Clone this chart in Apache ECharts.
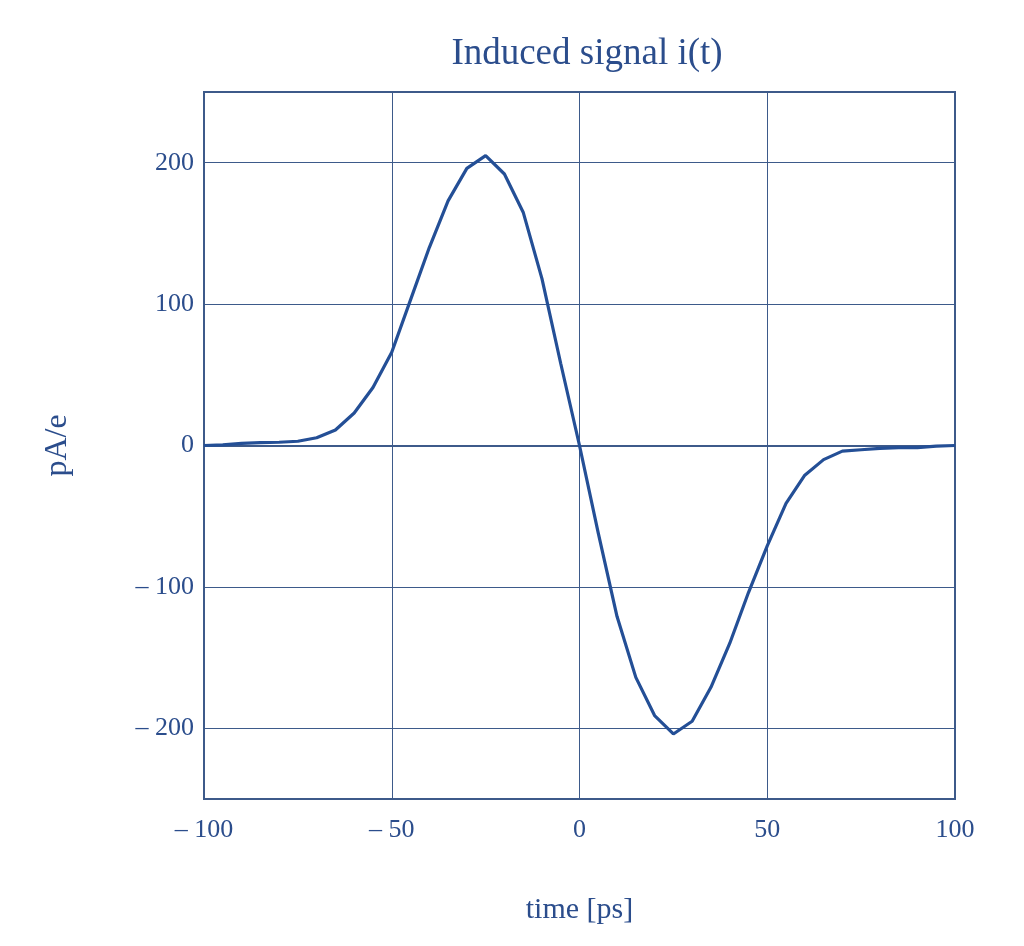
<!DOCTYPE html>
<html><head><meta charset="utf-8">
<script src="https://cdn.jsdelivr.net/npm/echarts@6/dist/echarts.min.js"></script>
<style>html,body{margin:0;padding:0;background:#fff}#c{width:1024px;height:946px}</style>
</head><body><div id="c"></div>
<script>
var times = [-100,-95,-90,-85,-80,-75,-70,-65,-60,-55,-50,-45,-40,-35,-30,-25,-20,-15,-10,-5,0,5,10,15,20,25,30,35,40,45,50,55,60,65,70,75,80,85,90,95,100];
var signal = [0,0.5,1.5,2,2.3,3,5.5,11,23,41,66,103,140,173,196,205,192,165,118,58,0,-62,-121,-164,-191,-204,-195,-171,-140,-104,-71,-41,-21,-10,-4,-3,-2,-1.5,-1.5,-0.5,0];
var yTicks = [-200,-100,0,100,200];
var xTicks = [-100,-50,0,50,100];
var titleText = 'Induced signal i(t)';
var xName = 'time [ps]';
var yName = 'pA/e';

var txt = '#2b4d8c', lineC = '#244f96', gridC = '#3d5a8a';
var font = '"Liberation Serif","DejaVu Serif",serif';
function fmt(v){ return v < 0 ? '\u2013 ' + Math.abs(v) : String(v); }
var chart = echarts.init(document.getElementById('c'));
chart.setOption({
  animation: false,
  title: { text: titleText, left: 582, textAlign: 'center', top: 31,
    textStyle: { fontFamily: font, fontSize: 37, fontWeight: 'normal', color: txt } },
  grid: { left: 204, right: 69, top: 92, bottom: 147, show: true, borderColor: gridC, borderWidth: 2, backgroundColor: 'transparent' },
  xAxis: { type: 'value', min: -100, max: 100, interval: 50,
    name: xName, nameLocation: 'middle', nameGap: 96,
    nameTextStyle: { fontFamily: font, fontSize: 30, color: txt },
    axisLine: { show: true, lineStyle: { color: gridC, width: 2 } },
    axisTick: { show: false },
    axisLabel: { fontFamily: font, fontSize: 26, color: txt, margin: 18, formatter: fmt },
    splitLine: { show: true, lineStyle: { color: gridC, width: 1 } } },
  yAxis: { type: 'value', min: -250, max: 250,
    name: yName, nameLocation: 'middle', nameGap: 130, nameRotate: 90,
    nameTextStyle: { fontFamily: font, fontSize: 32, color: txt },
    axisLine: { show: true, onZero: false, lineStyle: { color: gridC, width: 2 } },
    axisTick: { show: false, customValues: yTicks },
    axisLabel: { fontFamily: font, fontSize: 26, color: txt, margin: 10, formatter: fmt, customValues: yTicks },
    splitLine: { show: true, lineStyle: { color: gridC, width: 1 } } },
  series: [{ type: 'line', data: times.map(function(t,i){ return [t, signal[i]]; }),
    showSymbol: false, smooth: false, lineStyle: { color: lineC, width: 3.2 } }]
});
</script></body></html>
